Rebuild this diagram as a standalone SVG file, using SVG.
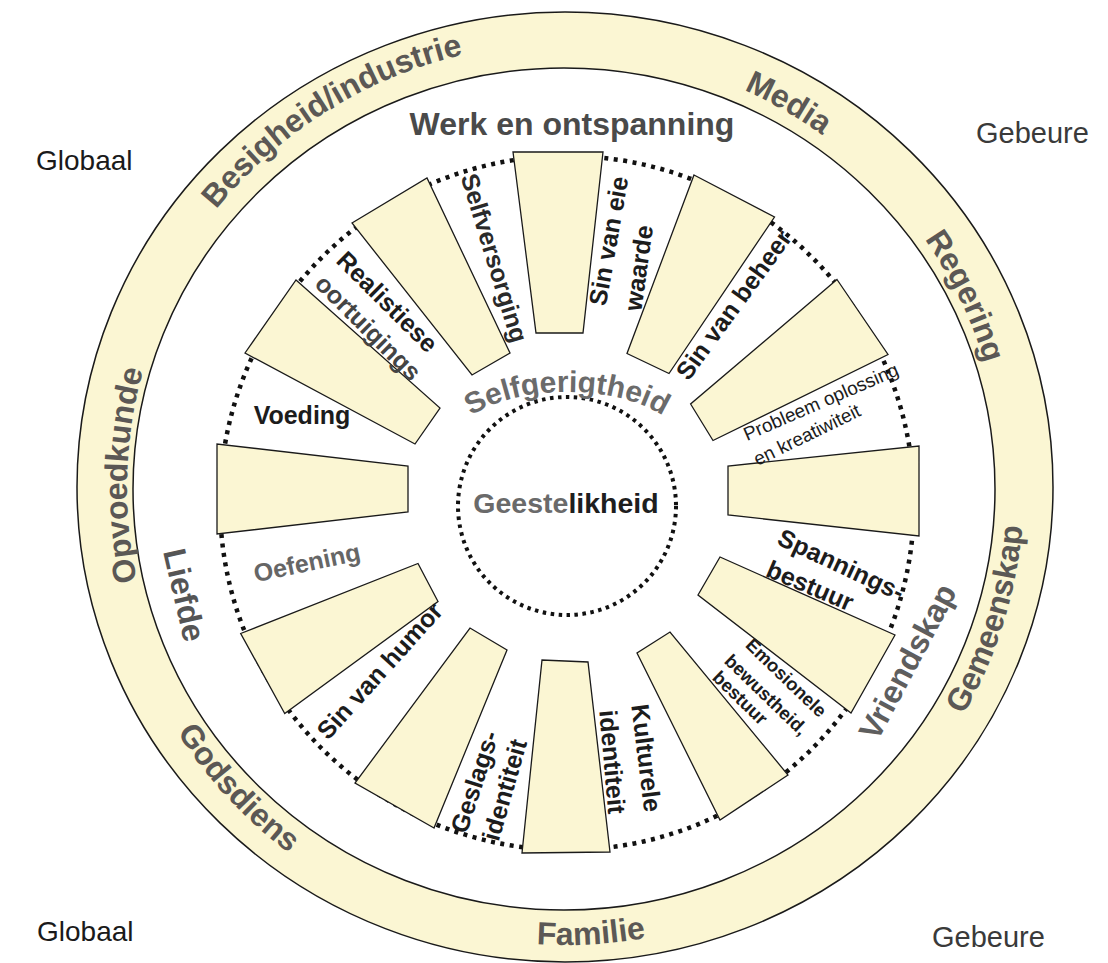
<svg xmlns="http://www.w3.org/2000/svg" width="1108" height="963" viewBox="0 0 1108 963">
<style>
text{font-family:"Liberation Sans",Arial,sans-serif;}
.seg{fill:#FBF6D3;stroke:#1a1a1a;stroke-width:1.3;stroke-linejoin:miter;}
.ring{fill:#FBF6D3;stroke:#1a1a1a;stroke-width:1.5;fill-rule:evenodd;}
.ringtxt{font-size:32px;font-weight:bold;fill:#5b5855;text-anchor:middle;}
.lab{font-size:25px;font-weight:bold;fill:#1c1c1c;text-anchor:middle;}
.big{font-size:32px;font-weight:bold;text-anchor:middle;}
.sm{font-size:19px;fill:#1c1c1c;text-anchor:middle;}
.em{font-size:18.5px;font-weight:bold;fill:#1c1c1c;text-anchor:middle;}
.dots{fill:none;stroke:#111;stroke-width:4.5;stroke-dasharray:4 5.5;}
.dots2{fill:none;stroke:#111;stroke-width:4;stroke-dasharray:3.5 4.5;}
.corner{font-size:28px;fill:#1a1a1a;}
</style>
<defs>
<path id="cwPath" d="M565,924 A438,436 0 1,1 565,52 A438,436 0 1,1 565,924"/>
<path id="cwPath2" d="M565,933 A447,445 0 1,1 565,43 A447,445 0 1,1 565,933"/>
<path id="ccwPath" d="M565,31 A459,457 0 1,0 565,945 A459,457 0 1,0 565,31"/>
<path id="selfPath" d="M461,423.8 A120,60 0 0,1 673,423.8"/>
</defs>

<g id="ring">
<path class="ring" d="M77,487 A488,475 0 1,1 1053,487 A488,475 0 1,1 77,487 Z M133,489 A431,421 0 1,0 995,489 A431,421 0 1,0 133,489 Z"/>
</g>

<g id="connectors">
<circle class="dots" cx="567" cy="503" r="347"/>
<circle class="dots2" cx="567" cy="506" r="109"/>
</g>

<g id="segments">
<polygon id="seg0" class="seg" points="513,152 603,152 583,333 536,333"/>
<polygon id="seg30" class="seg" points="694,175 774.5,217 669,373.5 627,353.5"/>
<polygon id="seg60" class="seg" points="837,279.5 888,354.5 713,440.5 690.6,404"/>
<polygon id="seg90" class="seg" points="919,446 919,536 728,515 728,466"/>
<polygon id="seg120" class="seg" points="895,635 851,713 698,595 720,557"/>
<polygon id="seg150" class="seg" points="788,775 720,820 637,653 670,632"/>
<polygon id="seg180" class="seg" points="610,852 522,853 542,660 588,662"/>
<polygon id="seg210" class="seg" points="434,828 355,783 470,628 507,650"/>
<polygon id="seg240" class="seg" points="284.7,713.5 240.7,633.5 418,563.5 438,601.5"/>
<polygon id="seg270" class="seg" points="217,534 217,444 408,466 408,512"/>
<polygon id="seg300" class="seg" points="245,353 296,280 440,408 415,444"/>
<polygon id="seg330" class="seg" points="352,223 427,178 510,353 472,375"/>
</g>

<g id="ring-labels">
<text class="ringtxt"><textPath href="#cwPath" startOffset="699">Opvoedkunde</textPath></text>
<text class="ringtxt"><textPath href="#cwPath2" startOffset="1150">Besigheid/industrie</textPath></text>
<text class="ringtxt"><textPath href="#cwPath" startOffset="1602">Media</textPath></text>
<text class="ringtxt"><textPath href="#cwPath" startOffset="1863">Regering</textPath></text>
<text class="ringtxt"><textPath href="#ccwPath" startOffset="1060">Godsdiens</textPath></text>
<text class="ringtxt"><textPath href="#ccwPath" startOffset="1465">Familie</textPath></text>
<text class="ringtxt"><textPath href="#ccwPath" startOffset="2020">Gemeenskap</textPath></text>
</g>

<g id="center">
<text x="566" y="513" style="font-size:28.5px;font-weight:bold;text-anchor:middle"><tspan fill="#6a6a6a">Geeste</tspan><tspan fill="#1e1e1e">likheid</tspan></text>
<text style="font-size:30px;font-weight:bold;fill:#6b6b6b;text-anchor:middle"><textPath href="#selfPath" startOffset="50%">Selfgerigtheid</textPath></text>
</g>

<g id="groups">
<text class="big" x="572" y="135" fill="#4a4a4a">Werk en ontspanning</text>
<text class="big" transform="translate(184,595) rotate(77)" y="0" dy="0.33em" fill="#555">Liefde</text>
<text class="big" transform="translate(908,662) rotate(-62)" y="0" dy="0.33em" fill="#5e5e5e">Vriendskap</text>
</g>

<g id="labels">
<text class="lab" transform="translate(494,258) rotate(73)" dy="0.33em" style="fill:#2a2a2a">Selfversorging</text>
<text class="lab" transform="translate(609,241) rotate(-80)" dy="0.33em">Sin van eie</text>
<text class="lab" transform="translate(639,268) rotate(-82)" dy="0.33em">waarde</text>
<text class="lab" transform="translate(734,305) rotate(-54)" dy="0.33em">Sin van beheer</text>
<text class="sm" transform="translate(821,402) rotate(-23.5)" dy="0.33em">Probleem oplossing</text>
<text class="sm" transform="translate(807,435) rotate(-26)" dy="0.33em">en kreatiwiteit</text>
<text class="lab" transform="translate(841,565) rotate(25)" dy="0.33em">Spannings-</text>
<text class="lab" transform="translate(810,586) rotate(23)" dy="0.33em">bestuur</text>
<text class="em" transform="translate(786,678) rotate(44)" dy="0.33em">Emosionele</text>
<text class="em" transform="translate(766,695) rotate(44)" dy="0.33em">bewustheid,</text>
<text class="em" transform="translate(740,698) rotate(44)" dy="0.33em">bestuur</text>
<text class="lab" transform="translate(646,758) rotate(83)" dy="0.33em">Kulturele</text>
<text class="lab" transform="translate(612,762) rotate(85)" dy="0.33em">identiteit</text>
<text class="lab" transform="translate(475,782) rotate(-72)" dy="0.33em">Geslags-</text>
<text class="lab" transform="translate(505,790) rotate(-74)" dy="0.33em">identiteit</text>
<text class="lab" transform="translate(380,671) rotate(-48)" dy="0.33em">Sin van humor</text>
<text class="lab" transform="translate(307,563) rotate(-12)" dy="0.33em" style="fill:#666">Oefening</text>
<text class="lab" transform="translate(302,416)" dy="0.33em">Voeding</text>
<text class="lab" transform="translate(387,302) rotate(45)" dy="0.33em">Realistiese</text>
<text class="lab" transform="translate(368,328) rotate(45)" dy="0.33em" style="fill:#444">oortuigings</text>
</g>

<g id="corners">
<text class="corner" x="36" y="170">Globaal</text>
<text class="corner" x="976" y="143" style="fill:#3a3a3a;font-size:29px">Gebeure</text>
<text class="corner" x="37" y="941">Globaal</text>
<text class="corner" x="932" y="947" style="fill:#3a3a3a;font-size:29px">Gebeure</text>
</g>
</svg>
